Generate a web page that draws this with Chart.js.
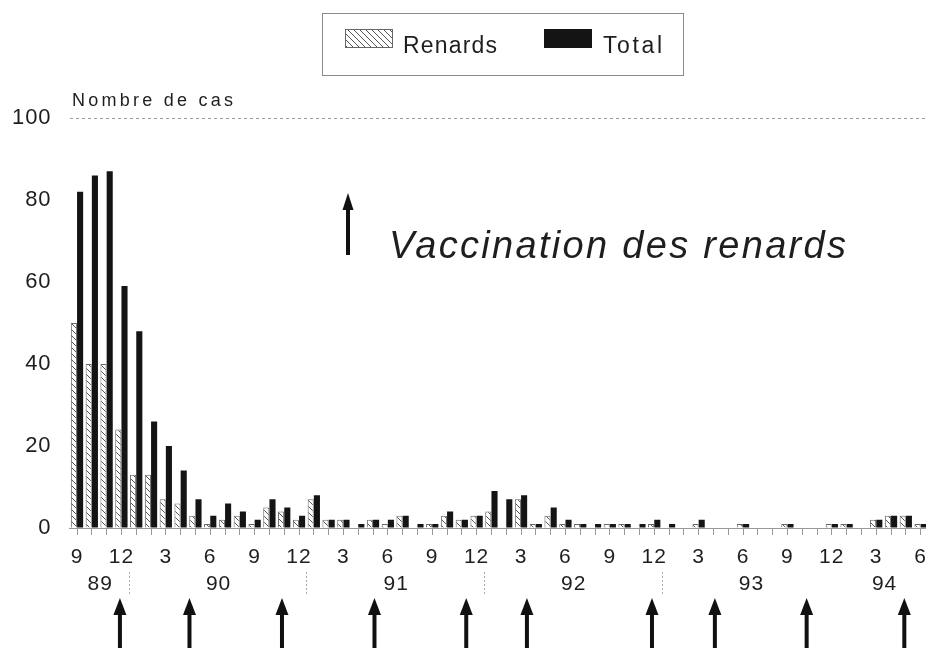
<!DOCTYPE html>
<html>
<head>
<meta charset="utf-8">
<script src="https://cdn.jsdelivr.net/npm/chart.js"></script>
<style>
  body { margin: 0; overflow: hidden; background: #fff; }
</style>
</head>
<body>
<canvas id="chart" width="940" height="654"></canvas>
<script>
// months Sept 1989 -> June 1994
const monthLabels = [
  '9','10','11','12',
  '1','2','3','4','5','6','7','8','9','10','11','12',
  '1','2','3','4','5','6','7','8','9','10','11','12',
  '1','2','3','4','5','6','7','8','9','10','11','12',
  '1','2','3','4','5','6','7','8','9','10','11','12',
  '1','2','3','4','5','6'
];
const renards = [
  50, 40, 40, 24,
  13, 13, 7, 6, 3, 1, 2, 3, 1, 5, 4, 2,
  7, 2, 2, 0, 2, 1, 3, 0, 1, 3, 2, 3,
  4, 0, 7, 1, 3, 1, 1, 0, 1, 1, 0, 1,
  0, 0, 1, 0, 0, 1, 0, 0, 1, 0, 0, 1,
  1, 0, 2, 3, 3, 1
];
const total = [
  82, 86, 87, 59,
  48, 26, 20, 14, 7, 3, 6, 4, 2, 7, 5, 3,
  8, 2, 2, 1, 2, 2, 3, 1, 1, 4, 2, 3,
  9, 7, 8, 1, 5, 2, 1, 1, 1, 1, 1, 2,
  1, 0, 2, 0, 0, 1, 0, 0, 1, 0, 0, 1,
  1, 0, 2, 3, 3, 1
];
const yearLabels = ['89', '90', '91', '92', '93', '94'];
const yearCenters = [1.5, 9.5, 21.5, 33.5, 45.5, 54.5];   // month index
const yearBreaks = [3.5, 15.5, 27.5, 39.5];
const vaccinations = [2.9, 7.6, 13.85, 20.1, 26.3, 30.4, 38.85, 43.1, 49.3, 55.9];

const FONT = "'Liberation Sans', Arial, Helvetica, sans-serif";
const INK = '#1e1e1e';

function hatch() {
  const c = document.createElement('canvas');
  c.width = 6; c.height = 6;
  const g = c.getContext('2d');
  g.fillStyle = '#fff';
  g.fillRect(0, 0, 6, 6);
  g.strokeStyle = '#555';
  g.lineWidth = 1;
  g.beginPath();
  g.moveTo(-1, -1); g.lineTo(7, 7);
  g.moveTo(-1, 5); g.lineTo(1, 7);
  g.moveTo(5, -1); g.lineTo(7, 1);
  g.stroke();
  return g.createPattern(c, 'repeat');
}
const hatchFill = hatch();

function spaced(ctx, text, x, y, width) {
  ctx.letterSpacing = '0px';
  const w = ctx.measureText(text).width;
  ctx.letterSpacing = Math.max(0, (width - w) / (text.length - 1)) + 'px';
  ctx.textAlign = 'left';
  ctx.fillText(text, x, y);
  ctx.letterSpacing = '0px';
}

function arrow(ctx, x, tip, end, shaft, head, headLen) {
  ctx.fillRect(x - shaft / 2, tip + headLen - 1, shaft, end - tip - headLen + 1);
  ctx.beginPath();
  ctx.moveTo(x, tip);
  ctx.lineTo(x + head / 2, tip + headLen);
  ctx.lineTo(x - head / 2, tip + headLen);
  ctx.closePath();
  ctx.fill();
}

const extras = {
  id: 'extras',
  beforeDraw(chart) {
    chart.ctx.letterSpacing = '1px';
  },
  afterDraw(chart) {
    const ctx = chart.ctx;
    const x = chart.scales.x;
    ctx.save();
    ctx.fillStyle = INK;
    ctx.textBaseline = 'alphabetic';

    // y title
    ctx.font = '18px ' + FONT;
    spaced(ctx, 'Nombre de cas', 72, 106, 161);

    // years under the month labels
    ctx.font = '21px ' + FONT;
    ctx.textAlign = 'center';
    ctx.textBaseline = 'middle';
    ctx.letterSpacing = '1px';
    yearLabels.forEach((t, i) => ctx.fillText(t, x.getPixelForValue(yearCenters[i]) + 1, 584));
    ctx.letterSpacing = '0px';

    ctx.strokeStyle = '#aaa';
    ctx.lineWidth = 1;
    ctx.setLineDash([2, 2]);
    yearBreaks.forEach(v => {
      const px = Math.round(x.getPixelForValue(v)) + 0.5;
      ctx.beginPath();
      ctx.moveTo(px, 572);
      ctx.lineTo(px, 594);
      ctx.stroke();
    });
    ctx.setLineDash([]);

    // vaccination arrows
    ctx.fillStyle = '#111';
    vaccinations.forEach(v => arrow(ctx, x.getPixelForValue(v), 598, 648, 4, 13, 17));

    // in-plot note
    arrow(ctx, 348, 193, 255, 4, 11, 17);
    ctx.fillStyle = INK;
    ctx.textBaseline = 'alphabetic';
    ctx.font = 'italic 38px ' + FONT;
    spaced(ctx, 'Vaccination des renards', 389, 258, 457);

    // legend
    ctx.strokeStyle = '#8a8a8a';
    ctx.lineWidth = 1;
    ctx.strokeRect(322.5, 13.5, 361, 62);
    const ds = chart.data.datasets;
    ctx.fillStyle = ds[0].backgroundColor;
    ctx.fillRect(345, 29, 48, 19);
    ctx.strokeStyle = '#666';
    ctx.strokeRect(345.5, 29.5, 47, 18);
    ctx.fillStyle = ds[1].backgroundColor;
    ctx.fillRect(544, 29, 48, 19);
    ctx.fillStyle = INK;
    ctx.font = '23px ' + FONT;
    spaced(ctx, ds[0].label, 403, 53, 94);
    spaced(ctx, ds[1].label, 603, 53, 59);

    ctx.restore();
  }
};

new Chart(document.getElementById('chart'), {
  type: 'bar',
  data: {
    labels: monthLabels,
    datasets: [
      {
        label: 'Renards',
        data: renards,
        backgroundColor: hatchFill,
        borderColor: '#666',
        borderWidth: 1,
        categoryPercentage: 0.84,
        barPercentage: 0.98
      },
      {
        label: 'Total',
        data: total,
        backgroundColor: '#141414',
        categoryPercentage: 0.84,
        barPercentage: 0.98
      }
    ]
  },
  options: {
    responsive: false,
    animation: false,
    devicePixelRatio: 1,
    layout: { padding: { top: 118, right: 12, left: 0, bottom: 0 } },
    plugins: {
      legend: { display: false },
      tooltip: { enabled: false }
    },
    scales: {
      x: {
        grid: {
          drawOnChartArea: false,
          offset: false,
          tickLength: 7,
          tickColor: '#999'
        },
        border: { display: true, color: '#999', dash: [2, 2] },
        ticks: {
          autoSkip: false,
          maxRotation: 0,
          padding: 10,
          color: INK,
          font: { family: FONT, size: 21 },
          callback: (v, i) => (i % 3 === 0 ? monthLabels[i] : '')
        },
        afterFit: s => { s.height = 126; }
      },
      y: {
        min: 0,
        max: 100,
        ticks: {
          stepSize: 20,
          padding: 18,
          color: INK,
          font: { family: FONT, size: 22 }
        },
        grid: {
          drawTicks: false,
          color: c => (c.tick.value === 100 ? '#999' : 'rgba(0,0,0,0)')
        },
        border: { display: false, dash: [3, 3] },
        afterFit: s => { s.height = s.height; s.width = 69.6; }
      }
    }
  },
  plugins: [extras]
});
</script>
</body>
</html>
